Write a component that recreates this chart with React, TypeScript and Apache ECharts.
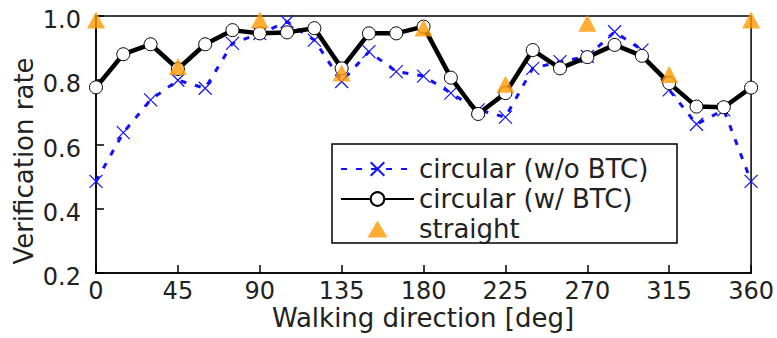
import React, { useEffect, useRef } from "react";
import * as echarts from "echarts";

const angles = [0, 15, 30, 45, 60, 75, 90, 105, 120, 135, 150, 165, 180, 195, 210, 225, 240, 255, 270, 285, 300, 315, 330, 345, 360];
const circularWoBTC = [0.485, 0.637, 0.739, 0.8, 0.775, 0.915, 0.945, 0.982, 0.925, 0.796, 0.889, 0.827, 0.813, 0.76, 0.708, 0.685, 0.837, 0.858, 0.874, 0.951, 0.894, 0.77, 0.663, 0.708, 0.485];
const circularWBTC = [0.778, 0.881, 0.912, 0.835, 0.912, 0.956, 0.946, 0.949, 0.962, 0.837, 0.946, 0.946, 0.967, 0.808, 0.695, 0.76, 0.894, 0.837, 0.872, 0.91, 0.876, 0.791, 0.718, 0.716, 0.777];
const straightAngles = [0, 45, 90, 135, 180, 225, 270, 315, 360];
const straightValues = [1.0, 0.855, 1.0, 0.835, 0.975, 0.8, 0.99, 0.83, 1.0];
const seriesNames = ["circular (w/o BTC)", "circular (w/ BTC)", "straight"];
const xTitle = "Walking direction [deg]";
const yTitle = "Verification rate";

const FONT = "DejaVu Sans";
const TRIANGLE_LEGEND_ICON =
  "path://M0 17L0.05 17L0.05 16.95Z M26.5 17L36.5 0L46.5 17Z M72.95 17L73 17L73 16.95Z";

export default function App() {
  const ref = useRef<HTMLDivElement>(null);
  useEffect(() => {
    if (!ref.current) return;
    const chart = echarts.init(ref.current, undefined, { renderer: "svg" });
    chart.setOption({
      animation: false,
      backgroundColor: "#fff",
      grid: {
        left: 96,
        right: 24,
        top: 16,
        bottom: 65,
        show: true,
        borderColor: "#000",
        borderWidth: 1.5,
        backgroundColor: "transparent",
      },
      xAxis: {
        type: "value",
        min: 0,
        max: 360,
        interval: 45,
        axisLine: { lineStyle: { color: "#000", width: 1.5 } },
        axisTick: { inside: true, length: 8, lineStyle: { color: "#000", width: 1.5 } },
        axisLabel: { color: "#222", fontSize: 24, fontFamily: FONT, margin: 6 },
        splitLine: { show: false },
      },
      yAxis: {
        type: "value",
        min: 0.2,
        max: 1.0,
        interval: 0.2,
        axisLine: { lineStyle: { color: "#000", width: 1.5 } },
        axisTick: { inside: true, length: 8, lineStyle: { color: "#000", width: 1.5 } },
        axisLabel: {
          color: "#222",
          fontSize: 24,
          fontFamily: FONT,
          margin: 15,
          verticalAlign: "top",
          lineHeight: 8,
          formatter: (v: number) => v.toFixed(1),
        },
        splitLine: { show: false },
      },
      legend: {
        orient: "vertical",
        left: 332,
        top: 144,
        z: 8,
        data: [
          { name: seriesNames[0] },
          { name: seriesNames[1] },
          { name: seriesNames[2], icon: TRIANGLE_LEGEND_ICON },
        ],
        borderWidth: 0,
        padding: [12, 10, 4, 8],
        itemWidth: 73,
        itemHeight: 17,
        itemGap: 4,
        textStyle: { fontSize: 26, fontFamily: FONT, color: "#222", lineHeight: 26 },
      },
      graphic: [
        {
          type: "rect",
          z: 6,
          shape: { x: 332, y: 144, width: 345, height: 99 },
          style: { fill: "#fff", stroke: "#000", lineWidth: 1.5 },
        },
        {
          type: "text",
          x: 24,
          y: 161,
          rotation: Math.PI / 2,
          style: { text: yTitle, fontSize: 26, fontFamily: FONT, fill: "#222", align: "center", verticalAlign: "middle" },
        },
        {
          type: "text",
          x: 423,
          y: 318,
          style: { text: xTitle, fontSize: 26, fontFamily: FONT, fill: "#222", align: "center", verticalAlign: "middle" },
        },
      ],
      series: [
        {
          name: seriesNames[0],
          type: "line",
          data: angles.map((a, i) => [a, circularWoBTC[i]]),
          symbol: "path://M0 0L10 10M10 0L0 10",
          symbolSize: 13,
          lineStyle: { color: "#1010ff", width: 3, type: [6, 9] },
          itemStyle: { color: "#1010ff", borderColor: "#1010ff", borderWidth: 1.2 },
          clip: false,
          z: 2,
        },
        {
          name: seriesNames[1],
          type: "line",
          data: angles.map((a, i) => [a, circularWBTC[i]]),
          symbol: "circle",
          symbolSize: 13,
          lineStyle: { color: "#000", width: 4.5 },
          itemStyle: { color: "#fff", borderColor: "#000", borderWidth: 1 },
          clip: false,
          z: 3,
        },
        {
          name: seriesNames[2],
          type: "scatter",
          data: straightAngles.map((a, i) => [a, straightValues[i]]),
          symbol: "triangle",
          symbolSize: [18, 17],
          symbolOffset: [0, 4],
          itemStyle: { color: "#ff9a00" },
          clip: false,
          z: 4,
        },
      ],
    });
    return () => chart.dispose();
  }, []);
  return <div ref={ref} style={{ position: "fixed", left: 0, top: 0, width: 777, height: 338 }} />;
}
